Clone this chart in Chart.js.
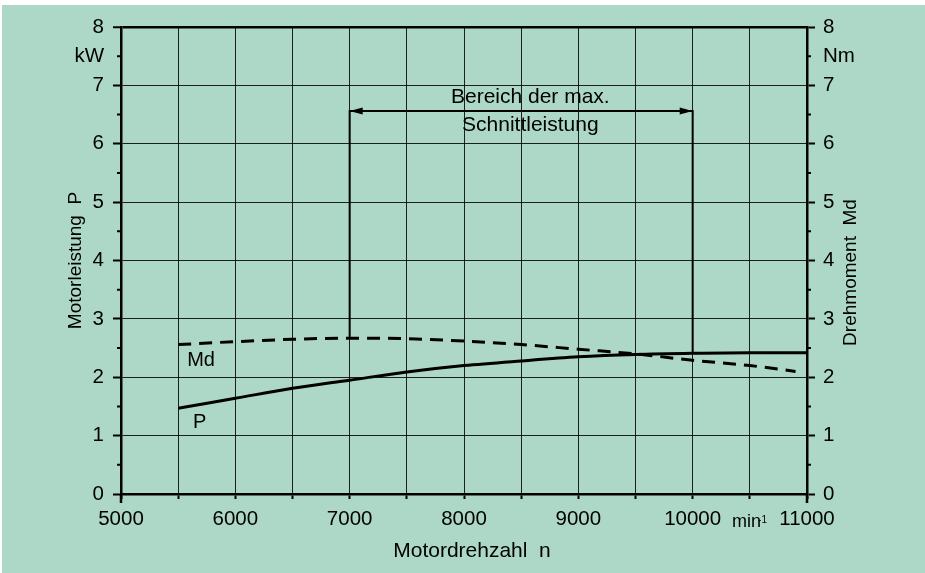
<!DOCTYPE html>
<html lang="de">
<head>
<meta charset="utf-8">
<title>Motorleistung und Drehmoment</title>
<script src="https://cdn.jsdelivr.net/npm/chart.js@4.4.1/dist/chart.umd.min.js"></script>
<style>
  html, body { margin: 0; padding: 0; background: #fff; }
  #wrap { position: absolute; left: 2px; top: 5px; width: 923px; height: 568px; background: #add8c8; }
</style>
</head>
<body>
<div id="wrap"><canvas id="chart"></canvas></div>
<script>
// Drehzahl-Stützstellen in min^-1
const drehzahl = [5500, 6000, 6500, 7000, 7500, 8000, 8500, 9000, 9500, 10000, 10500, 11000];
// Motorleistung P in kW
const leistung = [1.47, 1.64, 1.81, 1.95, 2.09, 2.20, 2.28, 2.35, 2.39, 2.41, 2.42, 2.42];
// Drehmoment Md in Nm (Kurve endet kurz vor 11000)
const drehzahlMd = [5500, 6000, 6500, 7000, 7500, 8000, 8500, 9000, 9500, 10000, 10500, 10900];
const drehmoment = [2.56, 2.61, 2.65, 2.67, 2.66, 2.62, 2.56, 2.48, 2.40, 2.29, 2.20, 2.10];
// Klammer "Bereich der max. Schnittleistung"
const bereichX = [7000, 7000, 10000, 10000];
const bereichY = [2.67, 6.56, 6.56, 2.41];
// beschriftete Ticks
const xTickLabels = [5000, 6000, 7000, 8000, 9000, 10000, 11000];
const yTickLabels = [0, 1, 2, 3, 4, 5, 6, 7, 8];

const FONT = '"Liberation Sans", Arial, sans-serif';
Chart.defaults.font.family = FONT;
Chart.defaults.color = '#000';

const toPoints = (xs, ys) => xs.map((x, i) => ({ x, y: ys[i] }));

// Beschriftung der y-Ticks, bei 7.5 steht die Einheit
function yLabel(unit) {
  return (v) => (v === 7.5 ? unit : (yTickLabels.includes(v) ? v : ''));
}
const isMajor = (ctx) => ctx.tick && Number.isInteger(ctx.tick.value);
const GRID = 'rgba(0,0,0,0.85)';

// Pfeilspitze, dir = 1 zeigt nach links, -1 nach rechts
function arrow(ctx, x, y, dir) {
  ctx.beginPath();
  ctx.moveTo(x, y);
  ctx.lineTo(x + dir * 13, y - 3.5);
  ctx.lineTo(x + dir * 13, y + 3.5);
  ctx.closePath();
  ctx.fill();
}

const beschriftung = {
  id: 'beschriftung',
  afterDatasetsDraw(chart) {
    const { ctx, chartArea: a, scales: { x, y } } = chart;
    ctx.save();
    ctx.fillStyle = '#000';
    ctx.strokeStyle = '#000';

    // kurze Zwischenstriche bei x.5
    ctx.lineWidth = 2;
    for (let v = 0.5; v < 8; v += 1) {
      const py = y.getPixelForValue(v);
      ctx.beginPath();
      ctx.moveTo(a.left - 4, py); ctx.lineTo(a.left, py);
      ctx.moveTo(a.right, py); ctx.lineTo(a.right + 4, py);
      ctx.stroke();
    }
    // y-Achsen laufen unten etwas über die x-Achse hinaus
    ctx.lineWidth = 2.5;
    ctx.beginPath();
    ctx.moveTo(a.left, a.bottom); ctx.lineTo(a.left, a.bottom + 9);
    ctx.moveTo(a.right, a.bottom); ctx.lineTo(a.right, a.bottom + 9);
    ctx.stroke();

    // Pfeilspitzen der Klammer
    const py = y.getPixelForValue(bereichY[1]);
    arrow(ctx, x.getPixelForValue(bereichX[1]), py, 1);
    arrow(ctx, x.getPixelForValue(bereichX[2]), py, -1);

    ctx.textAlign = 'center';
    ctx.textBaseline = 'middle';
    ctx.font = '21px ' + FONT;
    ctx.fillText('Bereich der max.', x.getPixelForValue(8580), y.getPixelForValue(6.80));
    ctx.fillText('Schnittleistung', x.getPixelForValue(8580), y.getPixelForValue(6.31));

    ctx.font = '20px ' + FONT;
    ctx.fillText('Md', x.getPixelForValue(5700), y.getPixelForValue(2.29));
    ctx.fillText('P', x.getPixelForValue(5688), y.getPixelForValue(1.22));

    // x-Achsentitel
    ctx.font = '21px ' + FONT;
    ctx.fillText('Motordrehzahl  n', (a.left + a.right) / 2 + 8, a.bottom + 57);

    // rechter Achsentitel, von unten nach oben gelesen
    ctx.save();
    ctx.translate(a.right + 44, (a.top + a.bottom) / 2 + 12);
    ctx.rotate(-Math.PI / 2);
    ctx.font = '19px ' + FONT;
    ctx.fillText('Drehmoment  Md', 0, 0);
    ctx.restore();

    // Einheit min^-1
    ctx.textAlign = 'left';
    ctx.textBaseline = 'alphabetic';
    ctx.font = '18px ' + FONT;
    const mx = x.getPixelForValue(10345);
    ctx.fillText('min', mx, a.bottom + 33);
    const w = ctx.measureText('min').width;
    ctx.font = '10px ' + FONT;
    ctx.fillText('-1', mx + w - 3, a.bottom + 29);

    ctx.restore();
  }
};

new Chart(document.getElementById('chart'), {
  type: 'line',
  data: {
    datasets: [
      {
        label: 'P',
        data: toPoints(drehzahl, leistung),
        borderColor: '#000',
        borderWidth: 3,
        pointRadius: 0,
        cubicInterpolationMode: 'monotone',
        yAxisID: 'y',
      },
      {
        label: 'Md',
        data: toPoints(drehzahlMd, drehmoment),
        borderColor: '#000',
        borderWidth: 3,
        borderDash: [13, 8],
        pointRadius: 0,
        cubicInterpolationMode: 'monotone',
        yAxisID: 'y2',
      },
      {
        label: 'Bereich',
        data: toPoints(bereichX, bereichY),
        borderColor: '#000',
        borderWidth: 2,
        pointRadius: 0,
        tension: 0,
        yAxisID: 'y',
      },
    ],
  },
  options: {
    responsive: true,
    maintainAspectRatio: false,
    animation: false,
    layout: { padding: { top: 22, left: 0, right: 0, bottom: 0 } },
    plugins: { legend: { display: false }, tooltip: { enabled: false } },
    scales: {
      x: {
        type: 'linear',
        min: 5000,
        max: 11000,
        ticks: {
          stepSize: 500,
          autoSkip: false,
          maxRotation: 0,
          padding: 8,
          font: { size: 20.5 },
          callback: (v) => (xTickLabels.includes(v) ? v : ''),
        },
        grid: {
          color: (ctx) => (ctx.tick && (ctx.tick.value === 5000 || ctx.tick.value === 11000) ? '#000' : GRID),
          lineWidth: 1,
          tickLength: 5,
          tickWidth: 2,
          tickColor: '#000',
        },
        border: { color: '#000', width: 2.5 },
        afterFit: (s) => { s.height = 79; },
      },
      y: {
        type: 'linear',
        position: 'left',
        min: 0,
        max: 8,
        ticks: { stepSize: 0.5, autoSkip: false, padding: 9, font: { size: 20.5 }, callback: yLabel('kW') },
        grid: {
          color: (ctx) => (!isMajor(ctx) ? 'rgba(0,0,0,0)' : (ctx.tick.value === 8 ? '#000' : GRID)),
          lineWidth: (ctx) => (ctx.tick && ctx.tick.value === 8 ? 2.5 : 1),
          tickLength: 8,
          tickWidth: 2,
          tickColor: (ctx) => (isMajor(ctx) ? '#000' : 'rgba(0,0,0,0)'),
        },
        border: { color: '#000', width: 2.5 },
        title: { display: true, text: 'Motorleistung  P', font: { size: 19 }, padding: { top: 62, bottom: 0 } },
        afterFit: (s) => { s.width = 119; },
      },
      y2: {
        type: 'linear',
        position: 'right',
        min: 0,
        max: 8,
        ticks: { stepSize: 0.5, autoSkip: false, padding: 8, font: { size: 20.5 }, callback: yLabel('Nm') },
        grid: {
          drawOnChartArea: false,
          tickLength: 8,
          tickWidth: 2,
          tickColor: (ctx) => (isMajor(ctx) ? '#000' : 'rgba(0,0,0,0)'),
        },
        border: { color: '#000', width: 2.5 },
        afterFit: (s) => { s.width = 118; },
      },
    },
  },
  plugins: [beschriftung],
});
</script>
</body>
</html>
